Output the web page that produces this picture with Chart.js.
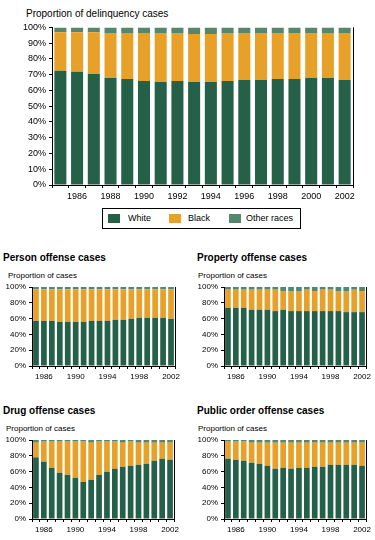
<!DOCTYPE html>
<html>
<head>
<meta charset="utf-8">
<script src="https://cdn.jsdelivr.net/npm/chart.js@4.4.1/dist/chart.umd.min.js"></script>
<style>
body { margin: 0; background: #fff; font-family: "Liberation Sans", Arial, sans-serif; color: #000; }
#wrap { position: relative; width: 375px; height: 540px; overflow: hidden; }
canvas { position: absolute; }
.t { position: absolute; white-space: nowrap; line-height: 1; }
.main-title { font-size: 10px; }
.sub-title { font-size: 10px; font-weight: bold; }
.axis-title { font-size: 8px; }
#legend { position: absolute; left: 102px; top: 208px; width: 197px; height: 19px; border: 1px solid #000; }
#legend span { position: absolute; top: 5px; font-size: 9px; line-height: 1; }
#legend i { position: absolute; top: 5px; width: 12px; height: 9px; }
</style>
</head>
<body>
<div id="wrap">
  <div class="t main-title" style="left:26px;top:9px">Proportion of delinquency cases</div>
  <canvas id="cMain" width="375" height="186" style="left:0;top:19px"></canvas>
  <div id="legend"></div>

  <div class="t sub-title" style="left:3px;top:253px">Person offense cases</div>
  <div class="t axis-title" style="left:8px;top:272px">Proportion of cases</div>
  <canvas id="cPerson" width="185" height="101" style="left:0;top:279px"></canvas>

  <div class="t sub-title" style="left:197px;top:253px">Property offense cases</div>
  <div class="t axis-title" style="left:198px;top:272px">Proportion of cases</div>
  <canvas id="cProperty" width="190" height="101" style="left:185px;top:279px"></canvas>

  <div class="t sub-title" style="left:3px;top:406px">Drug offense cases</div>
  <div class="t axis-title" style="left:6px;top:425px">Proportion of cases</div>
  <canvas id="cDrug" width="185" height="101" style="left:0;top:432px"></canvas>

  <div class="t sub-title" style="left:197px;top:406px">Public order offense cases</div>
  <div class="t axis-title" style="left:198px;top:425px">Proportion of cases</div>
  <canvas id="cPublic" width="190" height="101" style="left:185px;top:432px"></canvas>
</div>
<script>
const years = [1985, 1986, 1987, 1988, 1989, 1990, 1991, 1992, 1993, 1994, 1995, 1996, 1997, 1998, 1999, 2000, 2001, 2002];
const races = ['White', 'Black', 'Other races'];
const raceColors = ['#256049', '#e8a128', '#55876f'];

// all delinquency cases (percent)
const allWhite = [72.5, 71.9, 70.4, 67.9, 67.2, 66.0, 65.3, 66.0, 65.3, 65.3, 66.0, 66.6, 66.6, 67.2, 67.2, 67.9, 67.9, 66.6];
const allBlack = [24.5, 25.1, 26.6, 28.5, 29.2, 30.4, 31.1, 30.4, 30.5, 30.5, 30.4, 29.8, 29.8, 29.2, 29.2, 28.5, 28.5, 29.8];
const allOther = [3.0, 3.0, 3.0, 3.6, 3.6, 3.6, 3.6, 3.6, 4.2, 4.2, 3.6, 3.6, 3.6, 3.6, 3.6, 3.6, 3.6, 3.6];

const personWhite = [57.2, 57.2, 57.2, 55.9, 55.9, 55.9, 55.9, 57.2, 57.2, 57.2, 58.5, 58.5, 59.7, 61.0, 61.0, 61.0, 61.0, 59.7];
const personBlack = [39.8, 39.8, 39.8, 41.1, 41.1, 41.1, 41.1, 39.8, 39.8, 39.8, 38.5, 38.5, 37.3, 36.0, 36.0, 36.0, 36.0, 37.3];
const personOther = [3.0, 3.0, 3.0, 3.0, 3.0, 3.0, 3.0, 3.0, 3.0, 3.0, 3.0, 3.0, 3.0, 3.0, 3.0, 3.0, 3.0, 3.0];

const propertyWhite = [73.7, 73.7, 73.7, 71.2, 71.2, 71.2, 69.5, 71.2, 69.5, 69.5, 69.5, 69.5, 69.5, 69.5, 69.5, 68.2, 68.2, 68.2];
const propertyBlack = [22.9, 22.9, 22.9, 25.4, 25.4, 25.4, 27.1, 23.7, 25.4, 25.4, 27.1, 25.4, 27.1, 27.1, 25.4, 26.7, 28.4, 26.7];
const propertyOther = [3.4, 3.4, 3.4, 3.4, 3.4, 3.4, 3.4, 5.1, 5.1, 5.1, 3.4, 5.1, 3.4, 3.4, 5.1, 5.1, 3.4, 5.1];

const drugWhite = [78.0, 72.5, 64.8, 58.5, 55.9, 52.1, 47.0, 49.6, 55.9, 59.7, 63.6, 66.1, 67.4, 68.6, 69.9, 73.7, 76.3, 75.0];
const drugBlack = [18.6, 25.4, 33.1, 39.4, 42.0, 45.8, 50.9, 47.0, 42.0, 38.2, 34.3, 30.5, 30.5, 28.0, 26.7, 22.9, 20.3, 21.6];
const drugOther = [3.4, 2.1, 2.1, 2.1, 2.1, 2.1, 2.1, 3.4, 2.1, 2.1, 2.1, 3.4, 2.1, 3.4, 3.4, 3.4, 3.4, 3.4];

const publicWhite = [76.3, 75.0, 73.7, 71.2, 69.9, 67.4, 63.6, 64.8, 63.6, 64.8, 64.8, 66.1, 66.1, 68.6, 68.6, 68.6, 68.6, 67.4];
const publicBlack = [21.6, 22.9, 24.2, 25.4, 26.7, 29.2, 33.0, 31.8, 33.0, 31.8, 31.8, 30.5, 30.5, 28.0, 28.0, 28.0, 28.0, 29.2];
const publicOther = [2.1, 2.1, 2.1, 3.4, 3.4, 3.4, 3.4, 3.4, 3.4, 3.4, 3.4, 3.4, 3.4, 3.4, 3.4, 3.4, 3.4, 3.4];

const FONT = '"Liberation Sans", Arial, sans-serif';

// right-hand frame line of each plot
const rightBorder = {
    id: 'rightBorder',
    afterDraw(chart) {
        const a = chart.chartArea, ctx = chart.ctx;
        ctx.save();
        ctx.strokeStyle = '#000';
        ctx.lineWidth = 1;
        ctx.beginPath();
        ctx.moveTo(Math.round(a.right) + 0.5, a.top);
        ctx.lineTo(Math.round(a.right) + 0.5, a.bottom);
        ctx.stroke();
        ctx.restore();
    }
};

function makeChart(id, white, black, other, o) {
    const values = [white, black, other];
    new Chart(document.getElementById(id), {
        type: 'bar',
        data: {
            labels: years,
            datasets: races.map((r, i) => ({
                label: r,
                data: values[i],
                backgroundColor: raceColors[i],
                borderWidth: 0,
                barPercentage: 1,
                categoryPercentage: 0.72
            }))
        },
        options: {
            responsive: false,
            animation: false,
            layout: { padding: { top: 8, right: o.padRight, left: 0, bottom: 0 } },
            plugins: { legend: { display: false }, tooltip: { enabled: false }, title: { display: false } },
            scales: {
                x: {
                    stacked: true,
                    afterFit: s => { s.height = o.xHeight; },
                    grid: { offset: true, drawOnChartArea: false, tickLength: 3, color: '#000' },
                    border: { display: true, color: '#000', width: 1 },
                    ticks: {
                        autoSkip: false, maxRotation: 0, padding: 3, color: '#000',
                        font: { family: FONT, size: o.font },
                        callback: function (v, i) {
                            const y = years[i];
                            return (y - 1986) % o.every === 0 ? String(y) : '';
                        }
                    }
                },
                y: {
                    stacked: true, min: 0, max: 100,
                    afterFit: s => { s.width = o.yWidth; },
                    grid: { drawOnChartArea: false, tickLength: 3, color: '#000' },
                    border: { display: true, color: '#000', width: 1 },
                    ticks: {
                        stepSize: o.step, padding: 3, color: '#000',
                        font: { family: FONT, size: o.font },
                        callback: v => v + '%'
                    }
                }
            }
        },
        plugins: [rightBorder]
    });
}

makeChart('cMain', allWhite, allBlack, allOther, { step: 10, every: 2, font: 9, yWidth: 52, padRight: 22, xHeight: 20 });
makeChart('cPerson', personWhite, personBlack, personOther, { step: 20, every: 4, font: 8, yWidth: 32, padRight: 10, xHeight: 14 });
makeChart('cProperty', propertyWhite, propertyBlack, propertyOther, { step: 20, every: 4, font: 8, yWidth: 39, padRight: 9, xHeight: 14 });
makeChart('cDrug', drugWhite, drugBlack, drugOther, { step: 20, every: 4, font: 8, yWidth: 32, padRight: 11, xHeight: 14 });
makeChart('cPublic', publicWhite, publicBlack, publicOther, { step: 20, every: 4, font: 8, yWidth: 39, padRight: 9, xHeight: 14 });

// legend
const legend = document.getElementById('legend');
const swatchX = [5, 66, 126];
const textX = [25, 85, 143];
races.forEach((r, i) => {
    const sw = document.createElement('i');
    sw.style.left = swatchX[i] + 'px';
    sw.style.background = raceColors[i];
    legend.appendChild(sw);
    const tx = document.createElement('span');
    tx.style.left = textX[i] + 'px';
    tx.textContent = r;
    legend.appendChild(tx);
});
</script>
</body>
</html>
